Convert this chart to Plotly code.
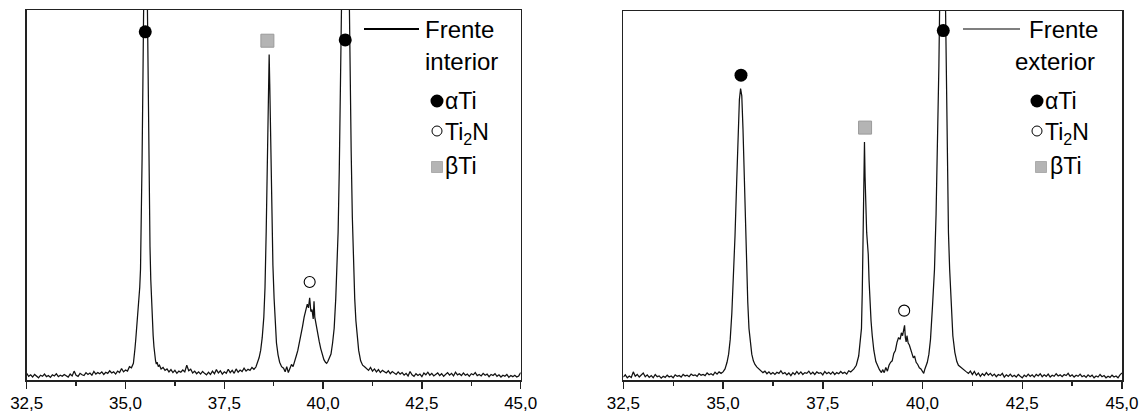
import plotly.graph_objects as go

# ---------------- DATA ----------------
tick_vals = [32.5, 35.0, 37.5, 40.0, 42.5, 45.0]
tick_text = ["32,5", "35,0", "37,5", "40,0", "42,5", "45,0"]
minor_ticks = [33.75, 36.25, 38.75, 41.25, 43.75]

# Frente interior (2theta, intensity in % of plot height)
tt_int = [
    32.50, 32.55, 32.60, 32.65, 32.70, 32.75, 32.80, 32.85, 32.90, 32.95,
    33.00, 33.05, 33.10, 33.15, 33.20, 33.25, 33.30, 33.35, 33.40, 33.45,
    33.50, 33.55, 33.60, 33.65, 33.70, 33.75, 33.80, 33.85, 33.90, 33.95,
    34.00, 34.05, 34.10, 34.15, 34.20, 34.25, 34.30, 34.35, 34.40, 34.45,
    34.50, 34.55, 34.60, 34.65, 34.70, 34.75, 34.80, 34.85, 34.90, 34.95,
    35.00, 35.05, 35.10, 35.15,
    35.20, 35.22, 35.24, 35.26, 35.28, 35.30, 35.32, 35.34, 35.36, 35.38,
    35.40, 35.42, 35.44, 35.46, 35.48, 35.50, 35.52, 35.54, 35.56, 35.58,
    35.60, 35.62, 35.64, 35.66, 35.68, 35.70, 35.72, 35.74, 35.76, 35.78,
    35.80, 35.83, 35.86, 35.90,
    35.95, 36.00, 36.05, 36.10, 36.15, 36.20, 36.25, 36.30, 36.35, 36.40,
    36.45, 36.50, 36.55, 36.60, 36.65, 36.70, 36.75, 36.80, 36.85, 36.90,
    36.95, 37.00, 37.05, 37.10, 37.15, 37.20, 37.25, 37.30, 37.35, 37.40,
    37.45, 37.50, 37.55, 37.60, 37.65, 37.70, 37.75, 37.80, 37.85, 37.90,
    37.95, 38.00, 38.05, 38.10, 38.15, 38.20, 38.25,
    38.30, 38.34, 38.38, 38.42, 38.46, 38.50, 38.53, 38.56, 38.58, 38.60,
    38.62, 38.635, 38.65, 38.67, 38.69, 38.71, 38.73, 38.76, 38.79, 38.82,
    38.86, 38.90, 38.95, 39.00, 39.04, 39.08, 39.12, 39.16, 39.20, 39.24,
    39.28, 39.32, 39.36, 39.40, 39.44, 39.48, 39.52, 39.56, 39.60, 39.63,
    39.66, 39.69, 39.72, 39.75, 39.77, 39.79, 39.82, 39.86, 39.90, 39.94,
    39.98, 40.02, 40.06, 40.09, 40.12, 40.16, 40.20, 40.24, 40.28, 40.32,
    40.35, 40.38, 40.41, 40.44, 40.47, 40.50, 40.53, 40.56, 40.59, 40.62,
    40.65, 40.68, 40.71, 40.74, 40.77, 40.80, 40.83, 40.86, 40.90, 40.95,
    41.00, 41.05, 41.10,
    41.15, 41.20, 41.25, 41.30, 41.35, 41.40, 41.45, 41.50, 41.55, 41.60,
    41.65, 41.70, 41.75, 41.80, 41.85, 41.90, 41.95,
    42.00, 42.05, 42.10, 42.15, 42.20, 42.25, 42.30, 42.35, 42.40, 42.45,
    42.50, 42.55, 42.60, 42.65, 42.70, 42.75, 42.80, 42.85, 42.90, 42.95,
    43.00, 43.05, 43.10, 43.15, 43.20, 43.25, 43.30, 43.35, 43.40, 43.45,
    43.50, 43.55, 43.60, 43.65, 43.70, 43.75, 43.80, 43.85, 43.90, 43.95,
    44.00, 44.05, 44.10, 44.15, 44.20, 44.25, 44.30, 44.35, 44.40, 44.45,
    44.50, 44.55, 44.60, 44.65, 44.70, 44.75, 44.80, 44.85, 44.90, 44.95,
    45.00,
]
cps_int = [
    1.8, 1.0, 1.4, 0.8, 1.5, 1.1, 0.6, 1.3, 1.0, 1.6,
    0.9, 1.2, 0.7, 1.4, 1.1, 1.7, 0.9, 1.3, 1.0, 1.5,
    1.2, 0.8, 1.6, 1.1, 2.4, 1.3, 1.0, 1.8, 1.4, 1.2,
    2.0, 1.5, 1.9, 1.3, 2.3, 1.6, 2.0, 1.7, 2.2, 1.5,
    2.1, 1.8, 2.5, 1.9, 2.2, 1.6, 2.4, 2.0, 3.1, 2.2,
    2.7, 2.4, 3.6, 3.3,
    4.5, 6.0, 8.5, 11, 13.5, 15.5, 18, 21, 25, 30,
    42, 60, 80, 105, 130, 145, 140, 115, 90, 68,
    50, 36, 27, 20, 15, 12, 9, 6.5, 5.2, 4.3,
    4.8, 3.6, 4.0, 3.0,
    3.4, 2.6, 3.0, 2.2, 2.8, 2.0, 2.6, 1.8, 2.4, 2.1,
    2.7, 2.2, 4.0, 2.5, 2.9, 1.9, 2.4, 1.7, 2.2, 1.6,
    2.3, 1.8, 1.4, 2.1, 1.5, 2.4, 1.7, 2.8, 1.9, 2.5,
    1.6, 2.2, 1.8, 2.9, 2.0, 2.6, 1.8, 3.0, 2.1, 2.7,
    2.3, 3.2, 2.4, 2.9, 2.6, 3.4, 2.9,
    3.5, 4.5, 6.0, 8.0, 11.5, 17, 25, 40, 56, 72,
    86, 88, 80, 66, 52, 40, 31, 22, 15, 10,
    6.8, 4.8, 3.6, 3.2, 2.2, 3.6, 2.0, 3.0, 4.2, 3.6,
    5.5, 6.5, 8.0, 10, 12.5, 14.5, 17, 18.5, 20.5, 19.5,
    22.2, 18.5, 19.0, 16.5, 21.3, 17.0, 15.0, 12.5, 10.5, 8.5,
    7.0, 5.5, 4.8, 4.5, 5.0, 5.8, 7.0, 10, 14, 22,
    30, 40, 57, 78, 108, 140, 165, 175, 165, 140,
    110, 82, 62, 44, 31, 22, 16, 12, 8, 5.2,
    4.0, 3.6, 3.0,
    2.6, 3.4, 2.4, 3.0, 2.2, 2.8, 2.0, 2.6, 2.3, 1.9,
    2.5, 1.7, 2.3, 2.0, 1.5, 2.2, 1.6,
    2.0, 1.3, 1.8, 1.1, 2.3, 1.4, 1.0, 1.7, 1.2, 1.6,
    0.9, 1.9, 1.4, 2.1, 1.3, 1.8, 1.1, 1.6, 1.9, 1.2,
    1.7, 1.0, 1.5, 2.0, 1.3, 1.8, 1.1, 2.1, 1.4, 1.7,
    1.2, 1.9, 1.3, 1.6, 1.0, 1.7, 1.4, 2.0, 1.2, 1.5,
    1.1, 1.8, 1.3, 1.6, 0.9, 1.5, 1.2, 1.7, 1.0, 1.4,
    0.8, 1.3, 1.0, 1.5, 0.7, 1.2, 0.9, 1.3, 0.8, 1.1,
    2.0,
]

# Frente exterior
tt_ext = [
    32.50, 32.55, 32.60, 32.65, 32.70, 32.75, 32.80, 32.85, 32.90, 32.95,
    33.00, 33.05, 33.10, 33.15, 33.20, 33.25, 33.30, 33.35, 33.40, 33.45,
    33.50, 33.55, 33.60, 33.65, 33.70, 33.75, 33.80, 33.85, 33.90, 33.95,
    34.00, 34.05, 34.10, 34.15, 34.20, 34.25, 34.30, 34.35, 34.40, 34.45,
    34.50, 34.55, 34.60, 34.65, 34.70, 34.75, 34.80, 34.85, 34.90, 34.95,
    35.00, 35.05,
    35.10, 35.14, 35.18, 35.22, 35.26, 35.30, 35.34, 35.38, 35.41, 35.44,
    35.47, 35.50, 35.53, 35.56, 35.59, 35.62, 35.65, 35.68, 35.72, 35.76,
    35.80, 35.85, 35.90,
    35.95,
    36.00, 36.05, 36.10, 36.15, 36.20, 36.25, 36.30, 36.35, 36.40, 36.45,
    36.50, 36.55, 36.60, 36.65, 36.70, 36.75, 36.80, 36.85, 36.90, 36.95,
    37.00, 37.05, 37.10, 37.15, 37.20, 37.25, 37.30, 37.35, 37.40, 37.45,
    37.50, 37.55, 37.60, 37.65, 37.70, 37.75, 37.80, 37.85, 37.90, 37.95,
    38.00, 38.05, 38.10, 38.15,
    38.20, 38.28, 38.34, 38.40, 38.44, 38.47, 38.49, 38.51, 38.53, 38.545,
    38.56, 38.58, 38.60, 38.62, 38.64, 38.66, 38.68, 38.71, 38.74, 38.78,
    38.83, 38.88, 38.92, 38.97,
    39.00, 39.04, 39.08, 39.12, 39.16, 39.20, 39.24, 39.28, 39.32, 39.36,
    39.40, 39.44, 39.47, 39.50, 39.52, 39.55, 39.57, 39.59, 39.61, 39.64,
    39.67, 39.70, 39.74, 39.77, 39.80, 39.84, 39.88, 39.92, 39.96, 40.00,
    40.03, 40.06, 40.09, 40.12, 40.16, 40.20,
    40.25, 40.30, 40.34, 40.38, 40.41, 40.44, 40.47, 40.50, 40.53, 40.56,
    40.59, 40.62, 40.65, 40.68, 40.72, 40.76, 40.81, 40.86, 40.90, 40.96,
    41.02,
    41.05, 41.10, 41.15, 41.20, 41.25, 41.30, 41.35, 41.40, 41.45, 41.50,
    41.55, 41.60, 41.65, 41.70, 41.75, 41.80, 41.85, 41.90, 41.95,
    42.00, 42.05, 42.10, 42.15, 42.20, 42.25, 42.30, 42.35, 42.40, 42.45,
    42.50, 42.55, 42.60, 42.65, 42.70, 42.75, 42.80, 42.85, 42.90, 42.95,
    43.00, 43.05, 43.10, 43.15, 43.20, 43.25, 43.30, 43.35, 43.40, 43.45,
    43.50, 43.55, 43.60, 43.65, 43.70, 43.75, 43.80, 43.85, 43.90, 43.95,
    44.00, 44.05, 44.10, 44.15, 44.20, 44.25, 44.30, 44.35, 44.40, 44.45,
    44.50, 44.55, 44.60, 44.65, 44.70, 44.75, 44.80, 44.85, 44.90, 44.95,
    45.00,
]
cps_ext = [
    0.8, 1.4, 0.6, 1.1, 0.7, 2.2, 1.0, 1.5, 0.8, 1.3,
    1.9, 0.9, 1.4, 0.7, 1.2, 0.6, 1.5, 0.9, 1.1, 0.5,
    1.0, 0.7, 1.3, 0.8, 1.1, 0.6, 1.4, 1.0, 1.2, 0.8,
    1.5, 1.1, 1.3, 0.9, 1.6, 1.2, 1.4, 1.0, 1.7, 1.3,
    1.5, 1.2, 1.9, 1.4, 1.7, 1.3, 2.1, 1.6, 2.2, 1.8,
    2.2, 3.0,
    4.8, 7.0, 11, 18, 28, 39, 53, 67, 76, 79,
    77, 68, 56, 43, 30, 21, 14, 10, 7.0, 5.2,
    4.2, 3.5, 3.0,
    2.6,
    2.0, 2.4, 1.7, 2.2, 1.6, 2.0, 1.5, 2.1, 1.8, 2.5,
    1.7, 2.0, 1.4, 1.9, 1.2, 2.0, 1.5, 2.3, 1.6, 2.2,
    1.5, 2.0, 1.8, 2.4, 1.6, 2.1, 1.5, 2.2, 1.8, 2.0,
    1.4, 2.3, 1.7, 2.1, 1.6, 2.2, 1.5, 2.0, 1.7, 2.3,
    1.8, 2.1, 1.6, 2.5,
    2.2, 3.0, 4.0, 6.5, 10, 14, 24, 39, 58, 64.5,
    55, 46, 40, 37, 34, 27, 22, 16, 12, 8.0,
    5.0, 3.5, 2.8, 2.0,
    2.8, 2.0, 3.4, 2.4, 4.0, 4.8, 5.2, 7.2, 8.0, 10.2,
    11.5, 11.0, 12.8, 12.0, 13.0, 14.8, 11.5, 10.3, 12.0, 10.0,
    9.5, 8.5, 7.5, 6.0, 6.5, 4.8, 4.2, 3.3, 3.0, 2.2,
    1.8, 3.0, 3.8, 4.8, 7.0, 11,
    20, 30, 45, 65, 85, 110, 140, 160, 145, 115,
    85, 55, 40, 30, 20, 12, 7.5, 5.0, 4.0, 3.4,
    3.0,
    2.6, 2.2, 1.8, 2.4, 1.5, 2.3, 1.3, 1.9, 1.0, 1.7,
    1.2, 2.0, 1.3, 1.8, 1.1, 1.6, 0.9, 1.5, 1.2,
    1.8, 0.8, 1.4, 1.0, 1.6, 0.9, 1.3, 0.8, 1.5, 1.0,
    0.6, 1.3, 0.9, 1.6, 1.0, 1.4, 0.8, 1.5, 1.1, 1.7,
    0.9, 1.4, 1.0, 1.6, 0.8, 1.3, 1.0, 1.7, 1.1, 1.4,
    0.9, 1.5, 1.2, 1.8, 1.0, 1.4, 0.8, 1.3, 1.0, 1.6,
    0.9, 1.2, 0.7, 1.4, 0.9, 1.3, 0.6, 1.1, 0.8, 1.5,
    0.9, 1.2, 0.6, 1.0, 0.7, 1.3, 0.8, 1.1, 0.6, 1.4,
    1.9,
]

# phase labels placed above peaks (2theta, height)
alpha_int_x, alpha_int_y = [35.50, 40.56], [94.1, 91.9]
beta_int_x, beta_int_y = [38.59], [91.7]
ti2n_int_x, ti2n_int_y = [39.66], [26.5]
alpha_ext_x, alpha_ext_y = [35.45, 40.52], [82.6, 94.7]
beta_ext_x, beta_ext_y = [38.56], [68.4]
ti2n_ext_x, ti2n_ext_y = [39.54], [18.8]

assert len(tt_int) == len(cps_int), (len(tt_int), len(cps_int))
assert len(tt_ext) == len(cps_ext), (len(tt_ext), len(cps_ext))

# ---------------- FIGURE ----------------
W, H = 1148, 412
FONT = "Liberation Sans, Arial, sans-serif"
LINE = "#111111"
GRAY = "#b4b4b4"


def px(x):
    return x / W


def py(y):
    return 1 - y / H


fig = go.Figure()

for xa, ya, tt, cps in [("x", "y", tt_int, cps_int), ("x2", "y2", tt_ext, cps_ext)]:
    fig.add_trace(go.Scatter(x=tt, y=cps, mode="lines", xaxis=xa, yaxis=ya,
                             line=dict(color=LINE, width=1.25), showlegend=False,
                             hoverinfo="skip"))


def add_marks(xa, ya, ax, ay, bx, by, nx, ny, bsize):
    fig.add_trace(go.Scatter(x=ax, y=ay, mode="markers", xaxis=xa, yaxis=ya,
                             marker=dict(symbol="circle", size=13, color="black"),
                             showlegend=False, cliponaxis=False, hoverinfo="skip"))
    fig.add_trace(go.Scatter(x=bx, y=by, mode="markers", xaxis=xa, yaxis=ya,
                             marker=dict(symbol="square", size=bsize, color=GRAY,
                                         line=dict(color="#9a9a9a", width=1)),
                             showlegend=False, cliponaxis=False, hoverinfo="skip"))
    fig.add_trace(go.Scatter(x=nx, y=ny, mode="markers", xaxis=xa, yaxis=ya,
                             marker=dict(symbol="circle", size=11, color="white",
                                         line=dict(color="black", width=1.1)),
                             showlegend=False, cliponaxis=False, hoverinfo="skip"))


add_marks("x", "y", alpha_int_x, alpha_int_y, beta_int_x, beta_int_y, ti2n_int_x, ti2n_int_y, 13)
add_marks("x2", "y2", alpha_ext_x, alpha_ext_y, beta_ext_x, beta_ext_y, ti2n_ext_x, ti2n_ext_y, 13)

xcommon = dict(range=[32.5, 45.0], showline=True, mirror=True, linecolor="#222222",
               linewidth=1.5, ticks="outside", ticklen=7, tickwidth=1.5, tickcolor="#222222",
               tickvals=tick_vals, ticktext=tick_text,
               tickfont=dict(family=FONT, size=17, color="black"),
               minor=dict(tickvals=minor_ticks, ticks="outside", ticklen=4, tickwidth=1.3,
                          tickcolor="#222222"),
               showgrid=False, zeroline=False, fixedrange=True, automargin=False)
ycommon = dict(range=[0, 100], showline=True, mirror=True, linecolor="#222222",
               linewidth=1.5, ticks="", showticklabels=False, showgrid=False,
               zeroline=False, fixedrange=True, automargin=False)

fig.update_layout(
    width=W, height=H,
    margin=dict(l=0, r=0, t=0, b=0, pad=0, autoexpand=False),
    paper_bgcolor="white", plot_bgcolor="white", showlegend=False,
    xaxis=dict(domain=[px(26.7), px(520.7)], anchor="y", **xcommon),
    yaxis=dict(domain=[py(380), py(10)], anchor="x", **ycommon),
    xaxis2=dict(domain=[px(623.3), px(1122)], anchor="y2", **xcommon),
    yaxis2=dict(domain=[py(380), py(11)], anchor="x2", **ycommon),
)


# ---------------- LEGEND BLOCKS (drawn in paper space) ----------------
def legend_block(line_x0, line_x1, line_w, title1, title2, t1x, t1anchor, t2x, t2anchor,
                 mx, sqx, tx, btx):
    fig.add_shape(type="line", xref="paper", yref="paper", x0=px(line_x0), x1=px(line_x1),
                  y0=py(29), y1=py(29), line=dict(color="black", width=line_w))
    fig.add_annotation(text=title1, xref="paper", yref="paper", x=px(t1x), y=py(30),
                       xanchor=t1anchor, yanchor="middle", showarrow=False,
                       font=dict(family=FONT, size=24, color="black"))
    fig.add_annotation(text=title2, xref="paper", yref="paper", x=px(t2x), y=py(61),
                       xanchor=t2anchor, yanchor="middle", showarrow=False,
                       font=dict(family=FONT, size=24, color="black"))
    r = 6.5
    fig.add_shape(type="circle", xref="paper", yref="paper", x0=px(mx - r), x1=px(mx + r),
                  y0=py(101 + r), y1=py(101 - r), fillcolor="black",
                  line=dict(color="black", width=0))
    r = 5
    fig.add_shape(type="circle", xref="paper", yref="paper", x0=px(mx - r), x1=px(mx + r),
                  y0=py(131 + r), y1=py(131 - r), fillcolor="white",
                  line=dict(color="black", width=1))
    s = 5.5
    fig.add_shape(type="rect", xref="paper", yref="paper", x0=px(sqx - s), x1=px(sqx + s),
                  y0=py(167 + s), y1=py(167 - s), fillcolor=GRAY,
                  line=dict(color="#a0a0a0", width=0.8))
    for txt, yy, xx in [("αTi", 101, tx), ("Ti<sub>2</sub>N", 133, tx), ("βTi", 166, btx)]:
        fig.add_annotation(text=txt, xref="paper", yref="paper", x=px(xx), y=py(yy),
                           xanchor="left", yanchor="middle", showarrow=False,
                           font=dict(family=FONT, size=23, color="black"))


legend_block(364, 419, 2.0, "Frente", "interior", 423, "left", 423, "left", 437, 437, 443, 443)
legend_block(963, 1020, 1.2, "Frente", "exterior", 1100, "right", 1097, "right", 1037, 1041, 1043, 1048)

fig.write_html("out.html", config={"displayModeBar": False, "staticPlot": True},
               post_script="document.body.style.margin='0';document.body.style.overflow='hidden';")
